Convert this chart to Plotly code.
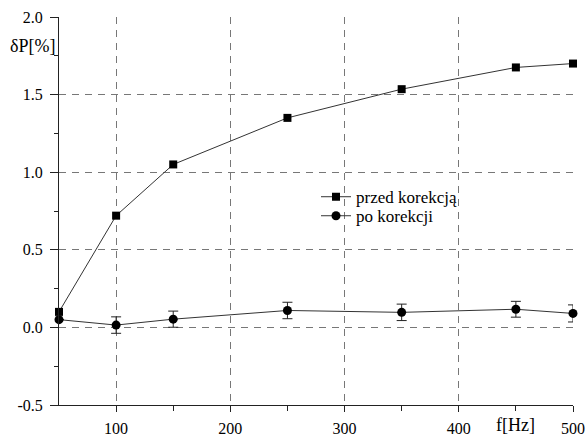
import plotly.graph_objects as go

freq = [50, 100, 150, 250, 350, 450, 500]
przed = [0.10, 0.72, 1.05, 1.35, 1.535, 1.675, 1.70]
po = [0.05, 0.015, 0.053, 0.109, 0.097, 0.117, 0.09]
po_err = [0.0, 0.053, 0.052, 0.053, 0.053, 0.051, 0.055]

x_ticks = [100, 200, 300, 400, 500]
x_ticktext = ["100", "200", "300", "400", "500"]
y_ticks = [-0.5, 0.0, 0.5, 1.0, 1.5, 2.0]
y_ticktext = ["-0.5", "0.0", "0.5", "1.0", "1.5", "2.0"]

font = "Liberation Serif"

fig = go.Figure()
fig.add_trace(go.Scatter(
    x=freq, y=przed, mode="lines+markers", name="przed korekcją",
    line=dict(color="#333", width=1),
    marker=dict(symbol="square", size=8, color="black"),
    cliponaxis=False, legend="legend",
))
fig.add_trace(go.Scatter(
    x=freq, y=po, mode="lines+markers", name="po korekcji",
    line=dict(color="#333", width=1),
    marker=dict(symbol="circle", size=9, color="black"),
    error_y=dict(type="data", array=po_err, visible=True, color="#222", thickness=1, width=5),
    cliponaxis=False, legend="legend2",
))

leg_common = dict(xanchor="left", yanchor="top", bgcolor="rgba(0,0,0,0)",
                  font=dict(size=17, family=font), itemwidth=30)

fig.update_layout(
    width=587, height=437,
    margin=dict(l=59, r=14, t=17, b=32, autoexpand=False),
    paper_bgcolor="white", plot_bgcolor="white",
    font=dict(family=font, size=16, color="black"),
    showlegend=True,
    legend=dict(x=0.50, y=0.582, **leg_common),
    legend2=dict(x=0.50, y=0.533, **leg_common),
    xaxis=dict(
        range=[50, 500], tickvals=x_ticks, ticktext=x_ticktext,
        showgrid=True, gridcolor="#777", griddash="7px,6px", gridwidth=1,
        showline=True, linecolor="#222", linewidth=1,
        ticks="outside", ticklen=6, tickcolor="#222", ticklabelstandoff=3,
        minor=dict(tickvals=[150, 250, 350, 450], ticks="outside", ticklen=5, tickcolor="#222", showgrid=False),
        zeroline=False, automargin=False, tickfont=dict(size=16, family=font),
    ),
    yaxis=dict(
        range=[-0.5, 2.0], tickvals=y_ticks, ticktext=y_ticktext,
        showgrid=True, gridcolor="#777", griddash="7px,6px", gridwidth=1,
        showline=True, linecolor="#222", linewidth=1,
        ticks="outside", ticklen=8, tickcolor="#222", ticklabelstandoff=4,
        minor=dict(tickvals=[-0.25, 0.25, 0.75, 1.25, 1.75], ticks="outside", ticklen=4, tickcolor="#222", showgrid=False),
        zeroline=False, automargin=False, tickfont=dict(size=16, family=font),
    ),
    annotations=[
        dict(text="δP[%]", xref="paper", yref="paper", x=-0.004, y=0.925,
             xanchor="right", yanchor="middle", showarrow=False, font=dict(size=18, family=font)),
        dict(text="f[Hz]", xref="x", yref="paper", x=450, y=0, yshift=-8,
             xanchor="center", yanchor="top", showarrow=False, font=dict(size=18, family=font)),
    ],
)

fig.write_html("out.html", config={"displayModeBar": False},
               post_script="document.body.style.margin='0px';")
